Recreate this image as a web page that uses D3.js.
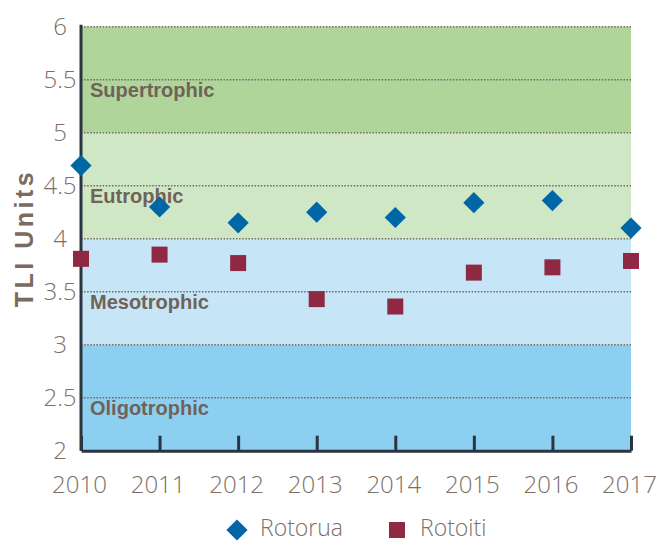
<!DOCTYPE html>
<html><head><meta charset="utf-8">
<script src="https://cdn.jsdelivr.net/npm/d3@7"></script>
<style>body{margin:0;background:#fff;}svg{display:block;}</style>
</head><body>
<script>
const years = [2010, 2011, 2012, 2013, 2014, 2015, 2016, 2017];
const rotorua = [4.69, 4.30, 4.15, 4.25, 4.20, 4.34, 4.36, 4.10];
const rotoiti = [3.81, 3.85, 3.77, 3.43, 3.36, 3.68, 3.73, 3.79];
const yTicks = [2, 2.5, 3, 3.5, 4, 4.5, 5, 5.5, 6];
const bandNames = ["Oligotrophic", "Mesotrophic", "Eutrophic", "Supertrophic"];
const bandLow = [2, 3, 4, 5];
const bandHigh = [3, 4, 5, 6];
const bandColors = ["#8dcff1", "#c6e5f6", "#d0e7c5", "#afd59b"];

const W = 659, H = 543;
const svg = d3.select("body").append("svg").attr("width", W).attr("height", H);
const x = d3.scaleLinear().domain([2010, 2017]).range([81, 631]);
const y = d3.scaleLinear().domain([2, 6]).range([450.7, 26.7]);
const tickFont = "'Open Sans', sans-serif";

// bands
svg.selectAll("rect.band").data(bandNames).enter().append("rect")
  .attr("x", x(2010)).attr("width", x(2017) - x(2010))
  .attr("y", (d, i) => y(bandHigh[i])).attr("height", (d, i) => y(bandLow[i]) - y(bandHigh[i]))
  .attr("fill", (d, i) => bandColors[i]);

// grid lines
svg.selectAll("line.grid").data(yTicks.filter(t => t > 2)).enter().append("line")
  .attr("x1", x(2010)).attr("x2", x(2017))
  .attr("y1", d => y(d)).attr("y2", d => y(d))
  .attr("stroke", "#6e6a66").attr("stroke-width", 1.5).attr("stroke-dasharray", "1.5,1.6");

// band labels
svg.selectAll("text.band").data(bandNames).enter().append("text")
  .attr("x", 90).attr("y", (d, i) => y((bandLow[i] + bandHigh[i]) / 2) + 17)
  .attr("font-family", "Liberation Sans, Arial, sans-serif").attr("font-weight", "bold")
  .attr("font-size", 20).attr("fill", "#716259").text(d => d);

// y tick labels
svg.selectAll("text.ytick").data(yTicks).enter().append("text")
  .attr("x", 60).attr("y", d => y(d) + 8.5).attr("text-anchor", "middle")
  .attr("font-family", tickFont).attr("font-weight", 300)
  .attr("font-size", 24).attr("fill", "#7d6f67").text(d => d);

// x axis
const xAxis = d3.axisBottom(x).tickValues(years).tickFormat(d3.format("d")).tickSizeInner(-15).tickSizeOuter(0).tickPadding(25);
const gx = svg.append("g").attr("transform", `translate(0,${y(2)})`).call(xAxis);
gx.select(".domain").attr("stroke", "#2b3540").attr("stroke-width", 3);
gx.selectAll(".tick line").attr("stroke", "#2b3540").attr("stroke-width", 3);
gx.selectAll(".tick text").attr("font-family", tickFont).attr("font-weight", 300)
  .attr("font-size", 24).attr("fill", "#7d6f67").attr("dx", -2);

// y axis line
svg.append("line").attr("x1", x(2010)).attr("x2", x(2010)).attr("y1", y(6) - 2).attr("y2", y(2))
  .attr("stroke", "#2b3540").attr("stroke-width", 3);

// y axis title
svg.append("text").attr("transform", "translate(33,238) rotate(-90)").attr("text-anchor", "middle")
  .attr("font-family", "Liberation Sans, Arial, sans-serif").attr("font-weight", "bold")
  .attr("font-size", 25).attr("letter-spacing", 3.5).attr("fill", "#7a6a61").text("TLI Units");

// points
const diamond = d3.symbol().type(d3.symbolSquare).size(225);
svg.selectAll("path.rot").data(rotorua).enter().append("path")
  .attr("d", diamond)
  .attr("transform", (d, i) => `translate(${x(years[i])},${y(d)}) rotate(45)`)
  .attr("fill", "#0066a5");
svg.selectAll("rect.rti").data(rotoiti).enter().append("rect")
  .attr("x", (d, i) => x(years[i]) - 8).attr("y", d => y(d) - 8)
  .attr("width", 16).attr("height", 16).attr("fill", "#8e2843");

// legend
const legendNames = ["Rotorua", "Rotoiti"];
svg.append("path").attr("d", diamond).attr("transform", "translate(237,530) rotate(45)").attr("fill", "#0066a5");
svg.append("rect").attr("x", 389).attr("y", 522).attr("width", 16).attr("height", 16).attr("fill", "#8e2843");
svg.selectAll("text.leg").data(legendNames).enter().append("text")
  .attr("x", (d, i) => [260, 420][i]).attr("y", 536)
  .attr("font-family", tickFont).attr("font-weight", 300)
  .attr("font-size", 23).attr("fill", "#7d6f67").text(d => d);
</script>
</body></html>
